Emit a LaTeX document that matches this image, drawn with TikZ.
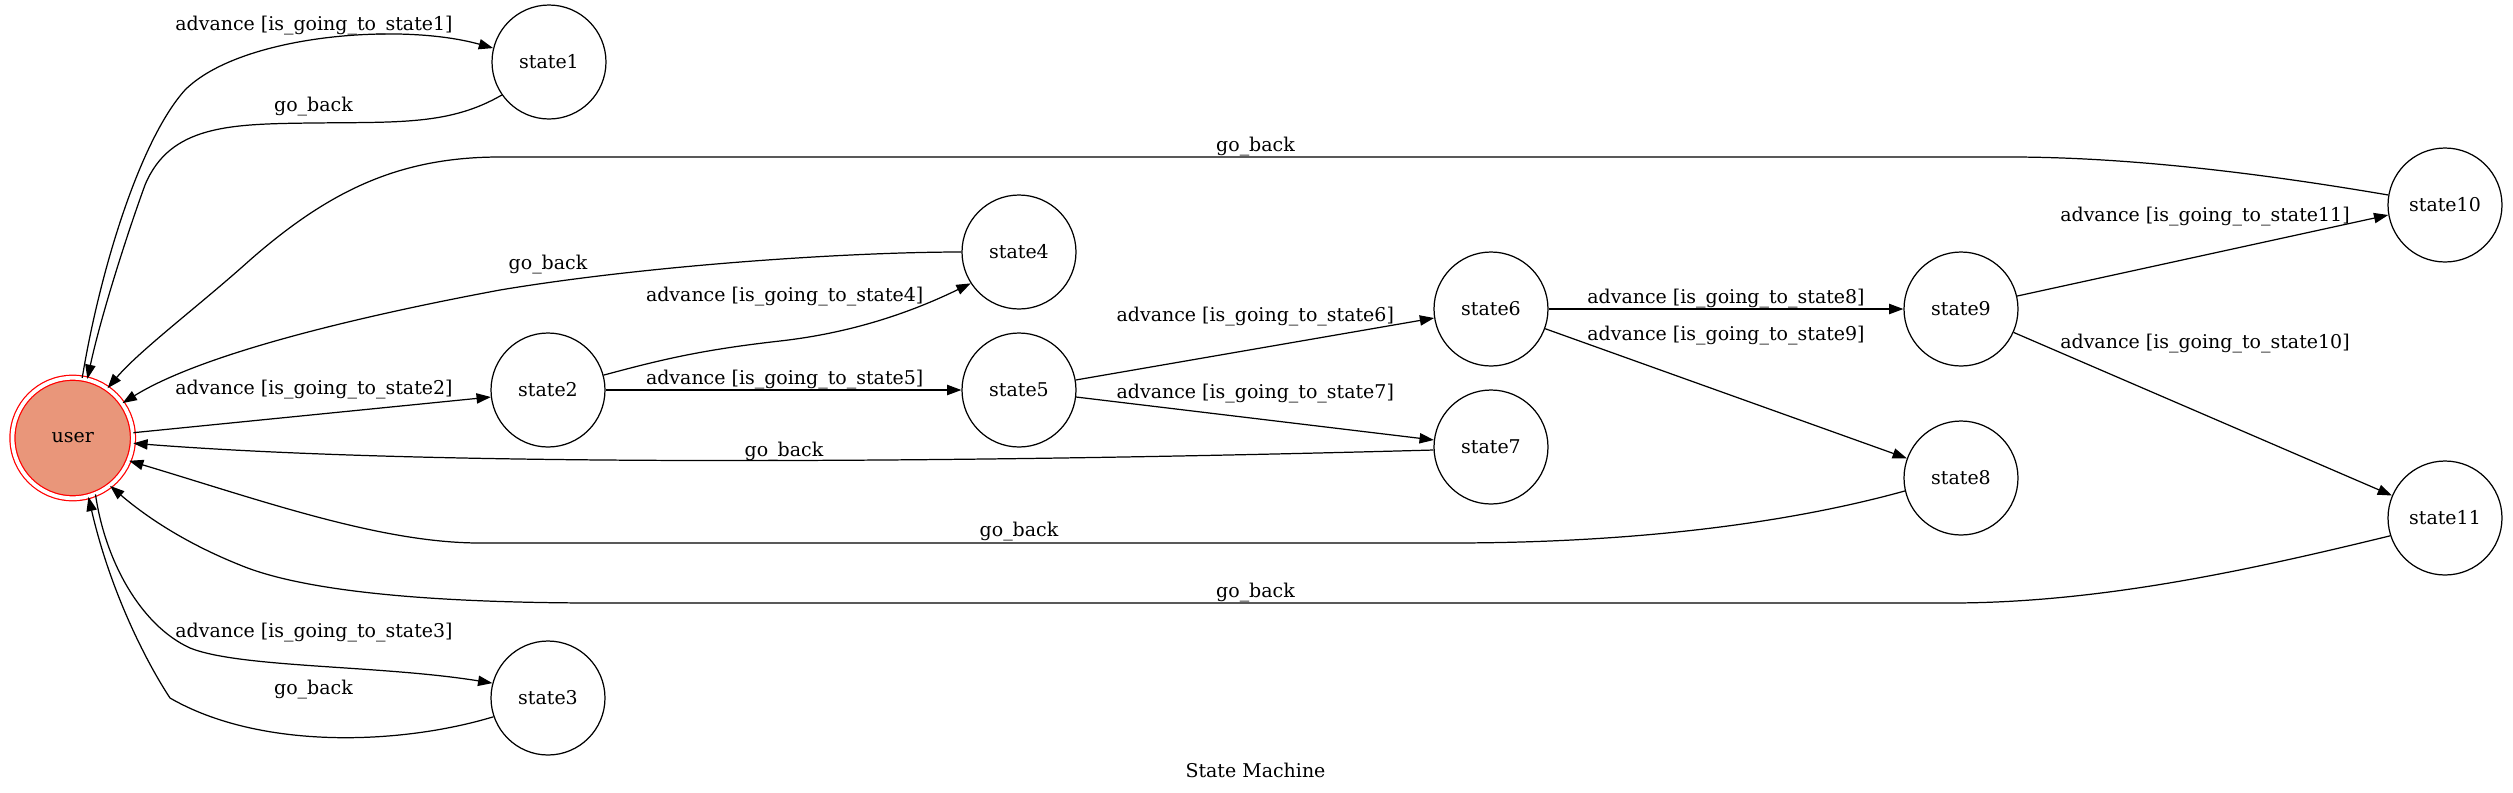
\documentclass[tikz,border=0pt]{standalone}
\usepackage{fontspec}
\setmainfont{DejaVu Serif}
\usepackage{xcolor}
\usetikzlibrary{arrows.meta}
\definecolor{darksalmon}{RGB}{233,150,122}

\begin{document}
\begin{tikzpicture}[x=0.02cm, y=-0.02cm,
    >={Triangle[length=0.286cm, width=0.206cm]},
    state/.style={draw, circle, line width=0.7pt, minimum size=2.28cm, inner sep=0pt, font=\fontsize{10.8}{13}\selectfont},
    userstate/.style={state, fill=darksalmon, draw=red, double=white, double distance=0.076cm, minimum size=2.41cm},
    trans/.style={->, line width=0.7pt},
    lbl/.style={inner sep=0pt, font=\fontsize{10.8}{13}\selectfont},
]
\useasboundingbox (0,0) rectangle (2513,792);
\node[userstate] (user) at (72.7,438) {user};
\node[state] (state1) at (549,62) {state1};
\node[state] (state2) at (548,390) {state2};
\node[state] (state3) at (548,698) {state3};
\node[state] (state4) at (1019,252) {state4};
\node[state] (state5) at (1019,390) {state5};
\node[state] (state6) at (1491,309) {state6};
\node[state] (state7) at (1491,447) {state7};
\node[state] (state8) at (1961,478) {state8};
\node[state] (state9) at (1961,309) {state9};
\node[state] (state10) at (2445,205) {state10};
\node[state] (state11) at (2445,518) {state11};
\draw[trans] (user.81) .. controls (100,270) and (140,140) .. (185,90) .. controls (240,35) and (400,22) .. (state1.166);
\node[lbl] (l1) at (314,26) {advance [is\_going\_to\_state1]};
\draw[trans] (state1.215) .. controls (450,125) and (400,122) .. (312,123) .. controls (230,124) and (170,125) .. (145,185) .. controls (125,240) and (100,320) .. (user.76);
\node[lbl] (b1) at (313.5,106.7) {go\_back};
\draw[trans] (user.5) -- (state2.187);
\node[lbl] (l2) at (314,390) {advance [is\_going\_to\_state2]};
\draw[trans] (user.-68) .. controls (105,560) and (140,625) .. (190,648) .. controls (240,668) and (380,665) .. (state3.165);
\node[lbl] (l3) at (314,632.3) {advance [is\_going\_to\_state3]};
\draw[trans] (state3.199) .. controls (400,745) and (260,750) .. (170,698) .. controls (145,660) and (110,590) .. (user.-75);
\node[lbl] (b3) at (313.5,689.3) {go\_back};
\draw[trans] (state2.15) .. controls (660,360) and (700,350) .. (780,341) .. controls (860,332) and (920,308) .. (state4.213);
\node[lbl] (l4) at (784.7,296.7) {advance [is\_going\_to\_state4]};
\draw[trans] (state4.180) .. controls (850,252) and (650,265) .. (500,290) .. controls (350,318) and (200,355) .. (user.35);
\node[lbl] (b4) at (548,265) {go\_back};
\draw[trans] (state2.east) -- (state5.west);
\node[lbl] (l5) at (784.7,380) {advance [is\_going\_to\_state5]};
\draw[trans] (state5.10) -- (state6.189);
\node[lbl] (l6) at (1255.3,317) {advance [is\_going\_to\_state6]};
\draw[trans] (state5.-7) -- (state7.173);
\node[lbl] (l7) at (1255.3,393.3) {advance [is\_going\_to\_state7]};
\draw[trans] (state7.183) .. controls (1000,462) and (450,468) .. (user.-5);
\node[lbl] (b7) at (784,451.7) {go\_back};
\draw[trans] (state6.east) -- (state9.west);
\node[lbl] (l8) at (1726,298.3) {advance [is\_going\_to\_state8]};
\draw[trans] (state6.-20) -- (state8.160);
\node[lbl] (l9) at (1726,336) {advance [is\_going\_to\_state9]};
\draw[trans] (state8.193) .. controls (1800,520) and (1650,543) .. (1450,543) -- (480,543) .. controls (380,543) and (260,500) .. (user.-22);
\node[lbl] (b8) at (1019,531.7) {go\_back};
\draw[trans] (state9.13) -- (state10.190);
\node[lbl] (l11) at (2205,216.7) {advance [is\_going\_to\_state11]};
\draw[trans] (state9.-24) -- (state11.157);
\node[lbl] (l10) at (2205,344) {advance [is\_going\_to\_state10]};
\draw[trans] (state10.170) .. controls (2300,180) and (2150,157) .. (2010,157) -- (500,157) .. controls (400,157) and (330,190) .. (250,260) .. controls (200,305) and (140,350) .. (user.55);
\node[lbl] (b10) at (1255.5,146.7) {go\_back};
\draw[trans] (state11.198) .. controls (2250,570) and (2100,603) .. (1950,603) -- (600,603) .. controls (420,603) and (300,590) .. (240,565) .. controls (190,545) and (150,520) .. (user.-52);
\node[lbl] (b11) at (1255.5,593) {go\_back};
\node[lbl] (title) at (1255.5,770) {State Machine};
\end{tikzpicture}
\end{document}
